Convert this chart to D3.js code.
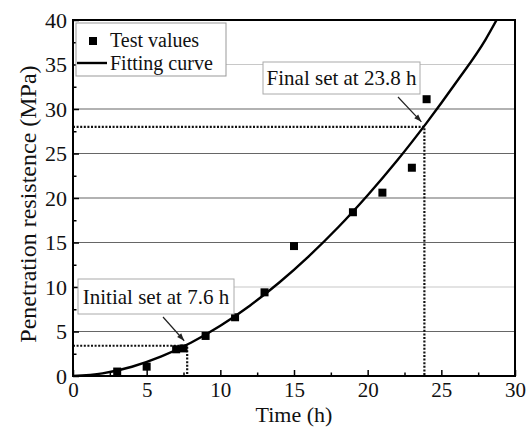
<!DOCTYPE html>
<html>
<head>
<meta charset="utf-8">
<script src="https://cdn.jsdelivr.net/npm/d3@7"></script>
<style>
body { margin: 0; background: #fff; }
text { font-family: "Liberation Serif", "Times New Roman", serif; fill: #111; }
</style>
</head>
<body>
<div id="chart"></div>
<script>
// Test data (time in h, penetration resistance in MPa)
const testTime = [3, 5, 7, 7.5, 9, 11, 13, 15, 19, 21, 23, 24];
const testValue = [0.5, 1.05, 3.0, 3.1, 4.5, 6.6, 9.4, 14.6, 18.4, 20.6, 23.4, 31.1];

// Fitting curve
const curveTime = [0, 2, 4, 6, 8, 10, 12, 14, 16, 18, 20, 22, 24, 26, 28, 28.75];
const curveValue = [0, 0.29, 1.04, 2.2, 3.74, 5.64, 7.9, 10.51, 13.45, 16.71, 20.31, 24.21, 28.44, 32.97, 37.8, 40];

// set points
const setNames = ["Initial set at 7.6 h", "Final set at 23.8 h"];
const setTime = [7.75, 23.85];
const setValue = [3.4, 28];

const xTicks = [0, 5, 10, 15, 20, 25, 30];
const yTicks = [0, 5, 10, 15, 20, 25, 30, 35, 40];

const width = 526, height = 427;
const margin = {top: 20, right: 11, bottom: 51, left: 73};

const svg = d3.select("#chart")
.append("svg")
.attr("width", width)
.attr("height", height);

const x = d3.scaleLinear().domain([0, 30]).range([margin.left, width - margin.right]);
const y = d3.scaleLinear().domain([0, 40]).range([height - margin.bottom, margin.top]);

const plot = svg.append("g");

// horizontal grid lines
plot.selectAll(".grid")
.data(yTicks.filter(d => d > 0 && d < 40))
.enter()
.append("line")
.attr("x1", x(0))
.attr("x2", x(30))
.attr("y1", d => y(d))
.attr("y2", d => y(d))
.attr("stroke", d => (d == 10 || d == 35) ? "#c8c8c8" : "#666")
.attr("stroke-width", 1.2);

// dotted guide lines for set times
setTime.forEach((t, i) => {
  plot.append("path")
  .attr("d", `M${x(0)},${y(setValue[i])}H${x(t)}V${y(0)}`)
  .attr("fill", "none")
  .attr("stroke", "#111")
  .attr("stroke-width", 2.2)
  .attr("stroke-dasharray", "2,1.6");
});

// clip for the curve
svg.append("clipPath").attr("id", "clip")
.append("rect")
.attr("x", x(0)).attr("y", y(40))
.attr("width", x(30) - x(0)).attr("height", y(0) - y(40));

const line = d3.line()
.x((d, i) => x(curveTime[i]))
.y(d => y(d))
.curve(d3.curveMonotoneX);

plot.append("path")
.datum(curveValue)
.attr("clip-path", "url(#clip)")
.attr("d", line)
.attr("fill", "none")
.attr("stroke", "#000")
.attr("stroke-width", 2.4);

// test value squares
plot.selectAll(".pt")
.data(testValue)
.enter()
.append("rect")
.attr("x", (d, i) => x(testTime[i]) - 4)
.attr("y", d => y(d) - 4)
.attr("width", 8)
.attr("height", 8)
.attr("fill", "#000");

// axes
const xAxis = svg.append("g")
.attr("transform", `translate(0,${y(0)})`)
.call(d3.axisBottom(x).tickValues(xTicks).tickSize(-6).tickPadding(6).tickFormat(d3.format("d")));
const xMinor = svg.append("g")
.attr("transform", `translate(0,${y(0)})`)
.call(d3.axisBottom(x).tickValues(d3.range(2.5, 30, 5)).tickSize(-3.5).tickFormat(""));
const yAxis = svg.append("g")
.attr("transform", `translate(${x(0)},0)`)
.call(d3.axisLeft(y).tickValues(yTicks).tickSize(-6).tickPadding(6).tickFormat(d3.format("d")));
const yMinor = svg.append("g")
.attr("transform", `translate(${x(0)},0)`)
.call(d3.axisLeft(y).tickValues(d3.range(2.5, 40, 5)).tickSize(-3.5).tickFormat(""));

[xAxis, xMinor, yAxis, yMinor].forEach(g => {
  g.select(".domain").remove();
  g.selectAll("line").attr("stroke", "#000").attr("stroke-width", 1.5);
});
xAxis.selectAll("text").style("font-size", "21px").attr("fill", "#222");
yAxis.selectAll("text").style("font-size", "22px").attr("fill", "#222");

// frame
svg.append("rect")
.attr("x", x(0)).attr("y", y(40))
.attr("width", x(30) - x(0)).attr("height", y(0) - y(40))
.attr("fill", "none")
.attr("stroke", "#000")
.attr("stroke-width", 2);

// axis titles
svg.append("text")
.attr("x", (x(0) + x(30)) / 2)
.attr("y", 421.5)
.attr("text-anchor", "middle")
.style("font-size", "22px")
.text("Time (h)");

svg.append("text")
.attr("transform", `translate(36,${(y(0) + y(40)) / 2 + 6}) rotate(-90)`)
.attr("text-anchor", "middle")
.style("font-size", "24px")
.text("Penetration resistence (MPa)");

// annotation boxes + arrows
const boxX = [78, 263];
const boxY = [279, 62];
const boxW = [156, 157];
const boxH = [35, 32];
const arrowFrom = [[163, 317], [398, 97]];

setNames.forEach((name, i) => {
  svg.append("rect")
  .attr("x", boxX[i]).attr("y", boxY[i])
  .attr("width", boxW[i]).attr("height", boxH[i])
  .attr("fill", "#fff")
  .attr("stroke", "#aaa")
  .attr("stroke-width", 1);
  svg.append("text")
  .attr("x", boxX[i] + boxW[i] / 2)
  .attr("y", boxY[i] + boxH[i] / 2 + 7)
  .attr("text-anchor", "middle")
  .style("font-size", "21px")
  .text(name);
  const tx = x(setTime[i]) - 3, ty = y(setValue[i]) - 5;
  const [fx, fy] = arrowFrom[i];
  const ang = Math.atan2(ty - fy, tx - fx);
  svg.append("line")
  .attr("x1", fx).attr("y1", fy).attr("x2", tx).attr("y2", ty)
  .attr("stroke", "#222").attr("stroke-width", 1.2);
  const h = 8, w = 0.35;
  svg.append("path")
  .attr("d", `M${tx},${ty}L${tx - h * Math.cos(ang - w)},${ty - h * Math.sin(ang - w)}L${tx - h * Math.cos(ang + w)},${ty - h * Math.sin(ang + w)}Z`)
  .attr("fill", "#222");
});

// legend
const legend = svg.append("g");
legend.append("rect")
.attr("x", 76).attr("y", 23).attr("width", 150).attr("height", 53)
.attr("fill", "#fff").attr("stroke", "#999").attr("stroke-width", 1);
legend.append("rect")
.attr("x", 89).attr("y", 37).attr("width", 8).attr("height", 8).attr("fill", "#000");
legend.append("text")
.attr("x", 110).attr("y", 47)
.style("font-size", "20px")
.text("Test values");
legend.append("line")
.attr("x1", 77).attr("x2", 107).attr("y1", 63).attr("y2", 63)
.attr("stroke", "#000").attr("stroke-width", 2.4);
legend.append("text")
.attr("x", 110).attr("y", 70)
.style("font-size", "20px")
.text("Fitting curve");
</script>
</body>
</html>
